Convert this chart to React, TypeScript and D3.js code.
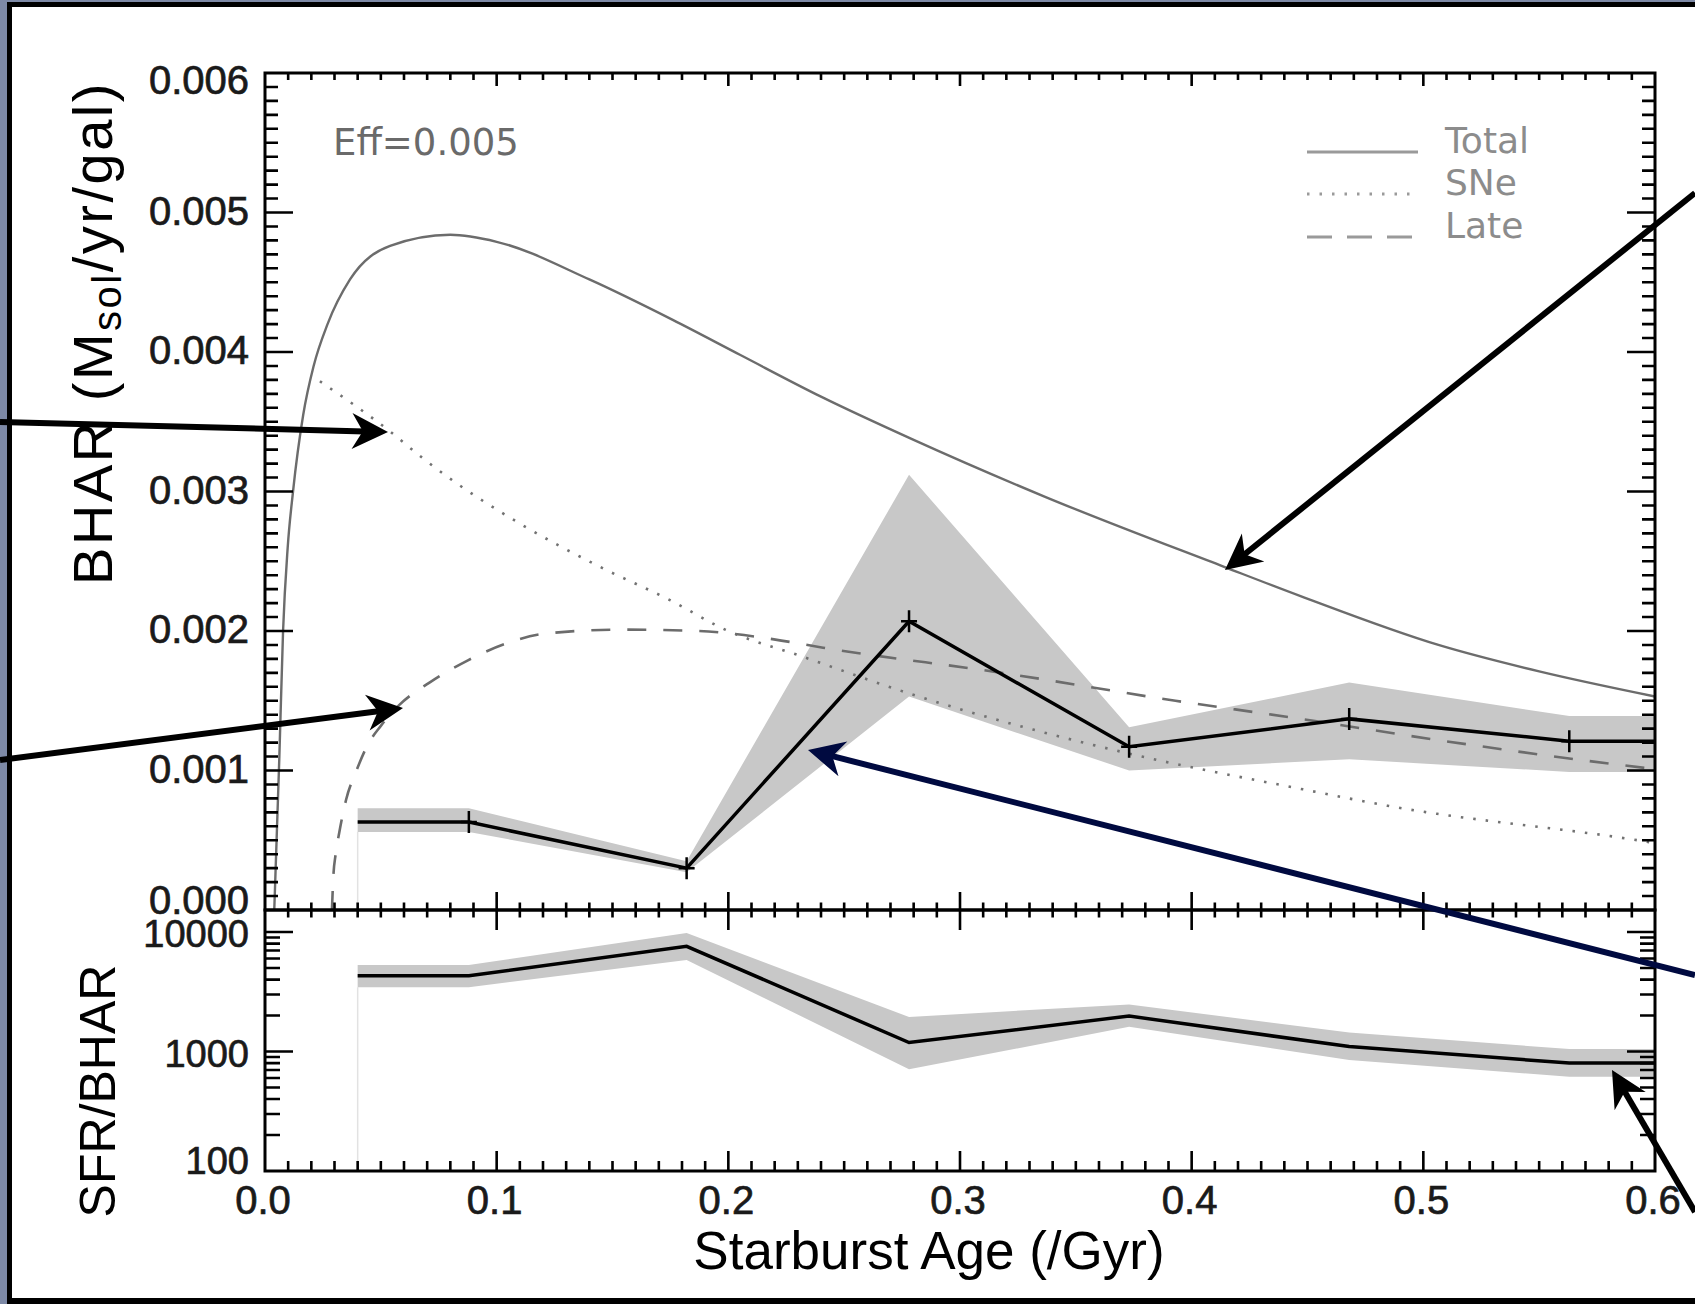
import React from 'react';
import * as d3 from 'd3';

// ---------- data ----------
const ages = [0.04, 0.088, 0.182, 0.278, 0.373, 0.468, 0.563, 0.6];
const bhar = [0.00063, 0.00063, 0.0003, 0.00207, 0.00117, 0.00137, 0.00121, 0.00121];
const bharHi = [0.00073, 0.00073, 0.00035, 0.00312, 0.00131, 0.00163, 0.00139, 0.00139];
const bharLo = [0.00056, 0.00056, 0.00027, 0.00153, 0.001, 0.00108, 0.00099, 0.00099];
const markerIdx = [1, 2, 3, 4, 5, 6];

const ratio = [4300, 4300, 7600, 1190, 1980, 1100, 800, 800];
const ratioHi = [5300, 5300, 9800, 1950, 2480, 1440, 1050, 1050];
const ratioLo = [3450, 3450, 5850, 710, 1610, 850, 615, 615];

const totalAge = [0.004, 0.0052, 0.0062, 0.0078, 0.0098, 0.0121, 0.0165, 0.021, 0.027, 0.0367, 0.054, 0.08, 0.1, 0.14, 0.176, 0.205, 0.24, 0.28, 0.337, 0.414, 0.447, 0.5065, 0.55, 0.6];
const totalVal = [0, 0.0006, 0.0011, 0.002, 0.0026, 0.003, 0.00355, 0.0039, 0.0042, 0.00452, 0.00476, 0.00484, 0.00479, 0.00452, 0.00423, 0.00398, 0.00368, 0.00337, 0.00296, 0.00246, 0.00225, 0.0019, 0.00171, 0.00153];

const sneAge = [0.0237, 0.054, 0.068, 0.0784, 0.11, 0.1446, 0.175, 0.1986, 0.2314, 0.2776, 0.372, 0.445, 0.487, 0.5925, 0.6];
const sneVal = [0.00379, 0.00343, 0.00324, 0.00311, 0.00277, 0.00246, 0.00222, 0.00201, 0.00182, 0.001555, 0.001125, 0.000875, 0.00074, 0.0005, 0.00048];

const lateAge = [0.0289, 0.0295, 0.0305, 0.032, 0.035, 0.0395, 0.0442, 0.05, 0.058, 0.071, 0.0876, 0.104, 0.1204, 0.1537, 0.1867, 0.2197, 0.2409, 0.318, 0.393, 0.443, 0.5096, 0.58, 0.6];
const lateVal = [0, 0.00024, 0.0004, 0.00055, 0.00079, 0.001, 0.00118, 0.00132, 0.00147, 0.00163, 0.00179, 0.00191, 0.00198, 0.00201, 0.002, 0.00194, 0.00188, 0.0017, 0.0015, 0.00138, 0.00121, 0.00105, 0.00101];

const xTickValues = [0, 0.1, 0.2, 0.3, 0.4, 0.5, 0.6];
const xTickLabels = ['0.0', '0.1', '0.2', '0.3', '0.4', '0.5', '0.6'];
const bharTickValues = [0, 0.001, 0.002, 0.003, 0.004, 0.005, 0.006];
const bharTickLabels = ['0.000', '0.001', '0.002', '0.003', '0.004', '0.005', '0.006'];
const ratioTickValues = [100, 1000, 10000];
const ratioTickLabels = ['100', '1000', '10000'];
const legendLabels = ['Total', 'SNe', 'Late'];
const effLabel = 'Eff=0.005';

// ---------- layout ----------
const W = 1695, H = 1304;
const L = 265, R = 1655;
const T1 = 73, B1 = 910;
const T2 = 910, B2 = 1171;

const x = d3.scaleLinear().domain([0, 0.6]).range([L, R]);
const y1 = d3.scaleLinear().domain([0, 0.006]).range([B1, T1]);
const y2 = d3.scaleLog().domain([100, 15300]).range([B2, T2]);

const LABEL_FONT = "'Liberation Sans', Arial, Helvetica, sans-serif";
const PLOT_FONT = "'DejaVu Sans', sans-serif";

function arrow(x0: number, y0: number, x1: number, y1_: number, color: string, key: string) {
  const dx = x1 - x0, dy = y1_ - y0;
  const len = Math.hypot(dx, dy);
  const ux = dx / len, uy = dy / len;
  const nx = -uy, ny = ux;
  const hl = 36, hw = 18;
  const bx = x1 - ux * hl, by = y1_ - uy * hl;
  const notchX = x1 - ux * hl * 0.7, notchY = y1_ - uy * hl * 0.7;
  const pts = [
    [x1, y1_],
    [bx + nx * hw, by + ny * hw],
    [notchX, notchY],
    [bx - nx * hw, by - ny * hw],
  ];
  return (
    <g key={key}>
      <line x1={x0} y1={y0} x2={notchX + ux * 2} y2={notchY + uy * 2} stroke={color} strokeWidth={6} />
      <polygon points={pts.map((p) => p.join(',')).join(' ')} fill={color} />
    </g>
  );
}

export default function App() {
  React.useLayoutEffect(() => {
    document.body.style.margin = '0';
    document.body.style.overflow = 'hidden';
  }, []);

  const idx = ages.map((_, i) => i);
  const bandTop = d3.area<number>()
    .x((i) => x(ages[i]))
    .y0((i) => y1(bharLo[i]))
    .y1((i) => y1(bharHi[i]));
  const lineTop = d3.line<number>().x((i) => x(ages[i])).y((i) => y1(bhar[i]));
  const bandBot = d3.area<number>()
    .x((i) => x(ages[i]))
    .y0((i) => y2(ratioLo[i]))
    .y1((i) => y2(ratioHi[i]));
  const lineBot = d3.line<number>().x((i) => x(ages[i])).y((i) => y2(ratio[i]));

  const curve = (a: number[], v: number[]) =>
    d3.line<number>().x((i) => x(a[i])).y((i) => y1(v[i])).curve(d3.curveMonotoneX)(a.map((_, i) => i)) || '';

  // ---- ticks ----
  let tickPath = '';
  d3.range(0, 61).forEach((i) => {
    const xv = x(i / 100);
    const major = i % 10 === 0;
    if (i === 0 || i === 60) return;
    tickPath += `M${xv},${T1}v${major ? 13 : 7}`;
    tickPath += `M${xv},${B1 - (major ? 18 : 7.5)}V${B1 + (major ? 20 : 7.5)}`;
    tickPath += `M${xv},${B2}v${-(major ? 20 : 10)}`;
  });
  d3.range(1, 60).forEach((k) => {
    const yv = y1(k / 10000);
    const len = k % 10 === 0 ? 28 : 13;
    tickPath += `M${L},${yv}h${len}M${R},${yv}h${-len}`;
  });
  [100, 1000, 10000].forEach((dec) => {
    d3.range(1, 10).forEach((m) => {
      const v = dec * m;
      if (v <= 100 || v >= 15300) return;
      const yv = y2(v);
      const len = m === 1 ? 28 : 15;
      tickPath += `M${L},${yv}h${len}M${R},${yv}h${-len}`;
    });
  });

  const yLabelShift = (i: number, n: number) => (i === n - 1 ? 7 : i === 0 ? -10 : -2);

  return (
    <svg width={W} height={H} viewBox={`0 0 ${W} ${H}`} style={{ position: 'absolute', left: 0, top: 0, background: '#fff' }}>
      {/* slide border */}
      <rect x={0} y={0} width={W} height={H} fill="#fff" />
      <rect x={0} y={0} width={7} height={H} fill="#7d89a6" />
      <rect x={0} y={0} width={W} height={2} fill="#7d89a6" />
      <rect x={7} y={2} width={5} height={H - 2} fill="#000" />
      <rect x={7} y={2} width={W - 7} height={5} fill="#000" />
      <rect x={7} y={1298} width={W - 7} height={6} fill="#000" />

      {/* faint vertical lines at first bin */}
      <line x1={x(ages[0])} x2={x(ages[0])} y1={y1(bharLo[0])} y2={B1} stroke="#e2e2e2" strokeWidth={1.5} />
      <line x1={x(ages[0])} x2={x(ages[0])} y1={y2(ratioLo[0])} y2={B2} stroke="#e2e2e2" strokeWidth={1.5} />

      {/* bands */}
      <path d={bandTop(idx) || ''} fill="#c8c8c8" />
      <path d={bandBot(idx) || ''} fill="#c8c8c8" />

      {/* model curves */}
      <path d={curve(totalAge, totalVal)} fill="none" stroke="#6c6c6c" strokeWidth={2.4} />
      <path d={curve(sneAge, sneVal)} fill="none" stroke="#727272" strokeWidth={2.6} strokeDasharray="2.5 10" />
      <path d={curve(lateAge, lateVal)} fill="none" stroke="#6c6c6c" strokeWidth={2.6} strokeDasharray="19 17" />

      {/* data lines */}
      <path d={lineTop(idx) || ''} fill="none" stroke="#000" strokeWidth={3.5} />
      <path d={lineBot(idx) || ''} fill="none" stroke="#000" strokeWidth={3.5} />
      {markerIdx.map((i) => (
        <path
          key={'m' + i}
          d={`M${x(ages[i]) - 8},${y1(bhar[i])}h16M${x(ages[i])},${y1(bhar[i]) - 11}v22`}
          stroke="#000"
          strokeWidth={2.5}
        />
      ))}

      {/* frames */}
      <rect x={L} y={T1} width={R - L} height={B1 - T1} fill="none" stroke="#000" strokeWidth={3} />
      <rect x={L} y={T2} width={R - L} height={B2 - T2} fill="none" stroke="#000" strokeWidth={3} />
      <path d={tickPath} stroke="#000" strokeWidth={2.6} fill="none" />

      {/* tick labels */}
      <g fontFamily={LABEL_FONT} fill="#1a1a1a" stroke="#1a1a1a" strokeWidth={0.7}>
        {bharTickValues.map((v, i) => (
          <text key={'yl' + i} x={249} y={y1(v) + 14 + yLabelShift(i, bharTickValues.length)} textAnchor="end" fontSize={40}>
            {bharTickLabels[i]}
          </text>
        ))}
        {ratioTickValues.map((v, i) => (
          <text key={'rl' + i} x={249} y={y2(v) + 11 + (i === 0 ? -8 : 4)} textAnchor="end" fontSize={38}>
            {ratioTickLabels[i]}
          </text>
        ))}
        {xTickValues.map((v, i) => (
          <text key={'xl' + i} x={x(v) - 2} y={1214} textAnchor="middle" fontSize={40}>
            {xTickLabels[i]}
          </text>
        ))}
      </g>

      {/* in-plot text */}
      <text x={333} y={155} fontFamily={PLOT_FONT} fontSize={37} fill="#6a6a6a">{effLabel}</text>
      {legendLabels.map((lab, i) => {
        const ly = [152, 194, 237][i];
        const by = [153, 195, 238][i];
        const dash = [undefined, '2.5 10', '25 15'][i];
        return (
          <g key={'lg' + i}>
            <line x1={1307} x2={1418} y1={ly} y2={ly} stroke="#9a9a9a" strokeWidth={3} strokeDasharray={dash} />
            <text x={1445} y={by} fontFamily={PLOT_FONT} fontSize={36} fill="#8c8c8c">{lab}</text>
          </g>
        );
      })}

      {/* axis titles */}
      <text transform="translate(112,333) rotate(-90)" textAnchor="middle" fontFamily={LABEL_FONT} fontSize={56} letterSpacing={2.5} fill="#000">
        BHAR (M<tspan fontSize={40} dy={9}>sol</tspan><tspan dy={-9}>/yr/gal)</tspan>
      </text>
      <text transform="translate(115,1091) rotate(-90)" textAnchor="middle" fontFamily={LABEL_FONT} fontSize={50} fill="#000">
        SFR/BHAR
      </text>
      <text x={929} y={1269} textAnchor="middle" fontFamily={LABEL_FONT} fontSize={53} fill="#000">
        Starburst Age (/Gyr)
      </text>

      {/* annotation arrows */}
      {arrow(0, 422, 388, 432, '#000', 'a1')}
      {arrow(0, 760, 403, 708, '#000', 'a2')}
      {arrow(1695, 193, 1225, 570, '#000', 'a3')}
      {arrow(1695, 975, 808, 750, '#000a40', 'a4')}
      {arrow(1695, 1212, 1612, 1070, '#000', 'a5')}
    </svg>
  );
}
